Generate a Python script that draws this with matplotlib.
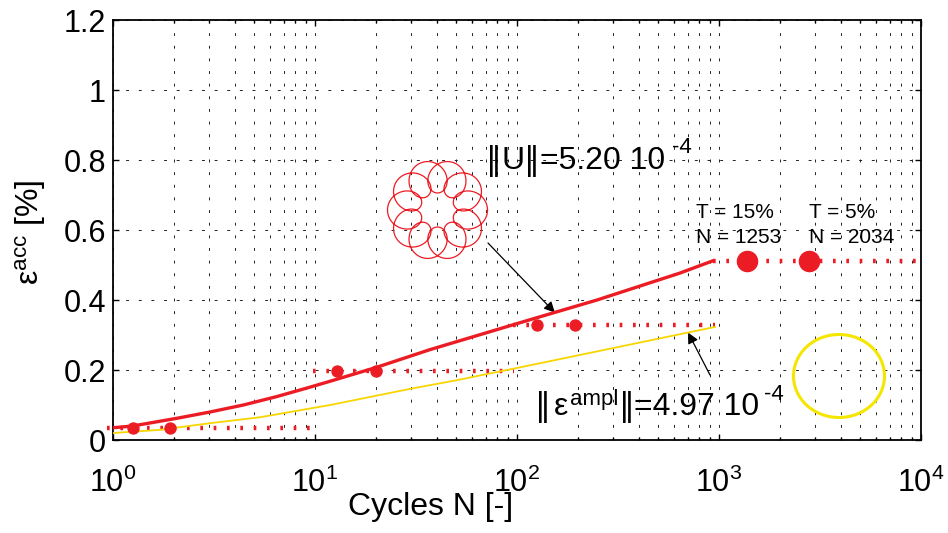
import numpy as np
import matplotlib
matplotlib.use("Agg")
import matplotlib.pyplot as plt
from matplotlib.patches import Ellipse
from matplotlib.ticker import LogLocator, FixedLocator

plt.rcParams['font.family'] = ['Liberation Sans', 'DejaVu Sans']
plt.rcParams['mathtext.fontset'] = 'custom'
plt.rcParams['mathtext.rm'] = 'Liberation Sans'
plt.rcParams['mathtext.it'] = 'Liberation Sans:italic'
plt.rcParams['mathtext.bf'] = 'Liberation Sans:bold'

W, H = 948, 533

# ---------------- data ----------------
red_N = [1, 1.25, 2.07, 3.02, 4.42, 6.46, 9.45, 11.9, 20, 37, 115, 249, 641, 923]
red_eps = [0.035, 0.040, 0.062, 0.080, 0.100, 0.124, 0.151, 0.168, 0.207, 0.258,
           0.343, 0.400, 0.477, 0.511]

yel_N = [1, 1.71, 3.02, 5.34, 9.45, 11.9, 29.5, 50.5, 115, 955]
yel_eps = [0.020, 0.029, 0.048, 0.065, 0.090, 0.100, 0.146, 0.171, 0.213, 0.323]

plateau_eps = [0.035, 0.198, 0.329, 0.511]
plateau_start = [0.93, 9.8, 96, 930]
plateau_end = [9.6, 97, 960, 9500]

small_dot_N = [1.25, 1.92, 12.8, 20, 125, 194]
small_dot_eps = [0.035, 0.035, 0.198, 0.198, 0.329, 0.329]
big_dot_N = [1370, 2800]
big_dot_eps = [0.511, 0.511]

x_ticks = [1, 10, 100, 1000, 10000]
x_tick_labels = [r'$\mathregular{10^{0}}$', r'$\mathregular{10^{1}}$',
                 r'$\mathregular{10^{2}}$', r'$\mathregular{10^{3}}$',
                 r'$\mathregular{10^{4}}$']
y_ticks = [0, 0.2, 0.4, 0.6, 0.8, 1.0, 1.2]
y_tick_labels = ['0', '0.2', '0.4', '0.6', '0.8', '1', '1.2']

RED = '#ec1c24'
YEL = '#f7d600'

def P(px, py):
    return (px / W, 1 - py / H)

fig = plt.figure(figsize=(W / 100, H / 100), dpi=100)
ax = fig.add_axes([113 / W, (H - 440) / H, (921 - 113) / W, 420 / H])
ax.set_xscale('log')
ax.set_xlim(1, 1e4)
ax.set_ylim(0, 1.2)

# grid
gstyle = dict(color='#222222', linewidth=0.7, linestyle=(0, (3, 10)))
ax.grid(True, which='major', axis='both', **gstyle)
ax.grid(True, which='minor', axis='x', **gstyle)
ax.set_axisbelow(True)

# plateaus
for e, s, t in zip(plateau_eps, plateau_start, plateau_end):
    ax.plot([s, t], [e, e], color=RED, linewidth=3.2,
            linestyle=(0, (0.6, 2.4)), clip_on=False, zorder=3)

ax.plot(yel_N, yel_eps, color=YEL, linewidth=1.3, zorder=4)
ax.plot(red_N, red_eps, color=RED, linewidth=2.4, zorder=5)
ax.plot(small_dot_N, small_dot_eps, 'o', color=RED, markersize=7.9,
        linestyle='none', zorder=6)
ax.plot(big_dot_N, big_dot_eps, 'o', color=RED, markersize=14.5,
        linestyle='none', zorder=6)

# yellow circle (schematic)
ax.add_patch(Ellipse(((839 - 113) / 808, (440 - 376) / 420), 91 / 808, 83 / 420,
                     transform=ax.transAxes, fill=False, edgecolor='#f5e600',
                     linewidth=2.2, zorder=4))

# ticks
ax.xaxis.set_major_locator(FixedLocator(x_ticks))
ax.set_xticklabels(x_tick_labels)
ax.xaxis.set_minor_locator(LogLocator(base=10, subs=np.arange(2, 10)))
ax.xaxis.set_minor_formatter(plt.NullFormatter())
ax.set_yticks(y_ticks)
ax.set_yticklabels(y_tick_labels)
ax.tick_params(which='both', direction='in', top=True, right=True, width=1.0)
ax.tick_params(which='major', length=4.3)
ax.tick_params(which='minor', length=2.5)
ax.tick_params(axis='x', which='major', labelsize=22, pad=20)
ax.tick_params(axis='y', which='major', labelsize=22, pad=5)
for sp in ax.spines.values():
    sp.set_linewidth(1.3)

# axis labels
fig.text(*P(30, 232), r'$\mathregular{ε^{acc}}$ [%]', rotation=90,
         ha='center', va='center', fontsize=23)
fig.text(*P(431, 507), 'Cycles N [-]', ha='center', va='center', fontsize=23)

# annotations
BAR = dict(family='DejaVu Sans', fontsize=23, va='baseline', ha='left')
TXT = dict(fontsize=23, va='baseline', ha='left')

fig.text(*P(486, 169), '‖', **BAR)
fig.text(*P(501, 169), 'U', **TXT)
fig.text(*P(524, 169), '‖', **BAR)
fig.text(*P(540, 169), '=5.20 10', **TXT)
fig.text(*P(672, 153), '-4', fontsize=16, va='baseline', ha='left')

fig.text(*P(535, 415), '‖', **BAR)
fig.text(*P(554, 415), 'ε', **TXT)
fig.text(*P(570, 405), 'ampl', fontsize=16, va='baseline', ha='left')
fig.text(*P(619, 415), '‖', **BAR)
fig.text(*P(634, 415), '=4.97 10', **TXT)
fig.text(*P(764, 400), '-4', fontsize=16, va='baseline', ha='left')

fig.text(*P(696, 218), 'T = 15%', fontsize=15, va='baseline', ha='left')
fig.text(*P(696, 243), 'N = 1253', fontsize=15, va='baseline', ha='left')
fig.text(*P(809, 218), 'T = 5%', fontsize=15, va='baseline', ha='left')
fig.text(*P(809, 243), 'N = 2034', fontsize=15, va='baseline', ha='left')

arrow = dict(arrowstyle='-|>', color='k', lw=0.9, mutation_scale=16,
             shrinkA=0, shrinkB=0)
ax.annotate('', xy=(154, 0.364), xycoords='data',
            xytext=(488, H - 243), textcoords='figure pixels', arrowprops=arrow)
ax.annotate('', xy=(703, 0.307), xycoords='data',
            xytext=(710, H - 375), textcoords='figure pixels', arrowprops=arrow)

# rosette schematic (inset)
ax_in = fig.add_axes([(437.5 - 60) / W, 1 - (210 + 60) / H, 120 / W, 120 / H])
ax_in.set_xlim(-60, 60)
ax_in.set_ylim(-60, 60)
ax_in.axis('off')
ros_R, ros_a, ros_b, ros_k = 33.5, 16.5, 14.0, 10
th = np.linspace(0, 2 * np.pi, 3000)
rho = ros_R + ros_a * np.cos(ros_k * th)
tau = ros_b * np.sin(ros_k * th)
ax_in.plot(rho * np.cos(th) - tau * np.sin(th), rho * np.sin(th) + tau * np.cos(th),
           color=RED, linewidth=0.9)

fig.savefig('out.png', dpi=100)
